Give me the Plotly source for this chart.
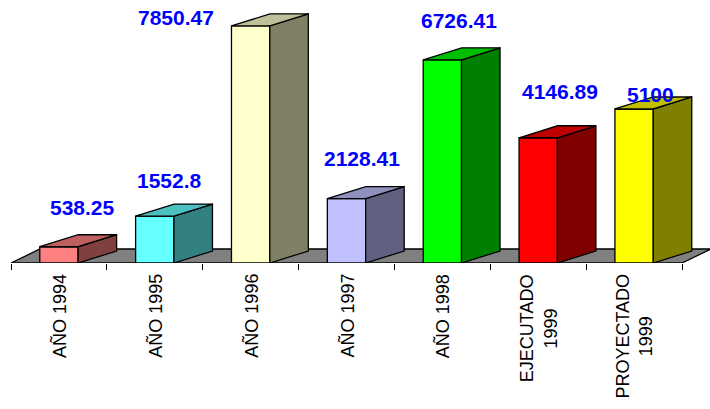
import plotly.graph_objects as go

# ---- data ----
categories = ["AÑO 1994", "AÑO 1995", "AÑO 1996", "AÑO 1997", "AÑO 1998",
              "EJECUTADO<br>1999", "PROYECTADO<br>1999"]
values = [538.25, 1552.8, 7850.47, 2128.41, 6726.41, 4146.89, 5100]
value_labels = ["538.25", "1552.8", "7850.47", "2128.41", "6726.41", "4146.89", "5100"]

# ---- style ----
front_colors = ["#FF8080", "#66FFFF", "#FFFFCC", "#C0C0FF", "#00FF00", "#FF0000", "#FFFF00"]
side_colors = ["#804040", "#338080", "#808066", "#606080", "#008000", "#800000", "#808000"]
top_colors = ["#BF6060", "#4CBFBF", "#BFBF99", "#9090BF", "#00BF00", "#BF0000", "#BFBF00"]
label_shift = [(24, 39), (15, 36), (-75, 8), (15, 40), (17, 39), (22, 46), (16, 14)]

W, H = 710, 409
PX_PER_CAT = 95.86
PX_PER_VAL = 0.0302
ML, MT, MB = 0, 0, 146
x0 = -11 / PX_PER_CAT
x1 = x0 + W / PX_PER_CAT
y1 = (H - MT - MB) / PX_PER_VAL

bar_w = 0.40
bar_dx = 38.5 / PX_PER_CAT
bar_dy = 12 / PX_PER_VAL
floor_dx = 29 / PX_PER_CAT
floor_dy = 14 / PX_PER_VAL
n = len(values)

fig = go.Figure()

def poly(xs, ys, color):
    fig.add_trace(go.Scatter(
        x=xs + [xs[0]], y=ys + [ys[0]], mode="lines", fill="toself",
        fillcolor=color, line=dict(color="black", width=1.3),
        hoverinfo="skip", showlegend=False))

# floor
poly([0, n, n + floor_dx, floor_dx], [0, 0, floor_dy, floor_dy], "#808080")

# bars
for i, v in enumerate(values):
    xl = i + 0.5 - bar_w / 2
    xr = i + 0.5 + bar_w / 2
    poly([xl, xr, xr, xl], [0, 0, v, v], front_colors[i])
    poly([xr, xr + bar_dx, xr + bar_dx, xr], [0, bar_dy, v + bar_dy, v], side_colors[i])
    poly([xl, xr, xr + bar_dx, xl + bar_dx], [v, v, v + bar_dy, v + bar_dy], top_colors[i])

annotations = []
for i, (v, t) in enumerate(zip(values, value_labels)):
    sx, sy = label_shift[i]
    annotations.append(dict(
        x=i + 0.5, y=v, xref="x", yref="y", text="<b>" + t + "</b>", showarrow=False,
        xanchor="center", yanchor="middle", xshift=sx, yshift=sy,
        font=dict(family="Liberation Sans, Arial, sans-serif", size=21, color="#0000FF"),
    ))
for i, c in enumerate(categories):
    annotations.append(dict(
        x=i + 0.5, y=0, xref="x", yref="paper", text=c, showarrow=False,
        textangle=-90, align="center", xanchor="center", yanchor="top", yshift=-9,
        font=dict(family="Liberation Sans, Arial, sans-serif", size=18, color="black"),
    ))

fig.update_layout(
    width=W, height=H,
    margin=dict(l=ML, r=0, t=MT, b=MB, pad=0),
    paper_bgcolor="white", plot_bgcolor="white",
    showlegend=False,
    xaxis=dict(range=[x0, x1], showgrid=False, zeroline=False, showline=False,
               tickmode="array", tickvals=list(range(n + 1)), ticktext=[""] * (n + 1),
               ticks="outside", ticklen=6, tickwidth=1, tickcolor="black",
               showticklabels=False, fixedrange=True),
    yaxis=dict(range=[0, y1], visible=False, fixedrange=True),
    annotations=annotations,
)

fig.write_html("out.html", config={"displayModeBar": False},
               post_script="document.body.style.margin='0';document.body.style.overflow='hidden';")
